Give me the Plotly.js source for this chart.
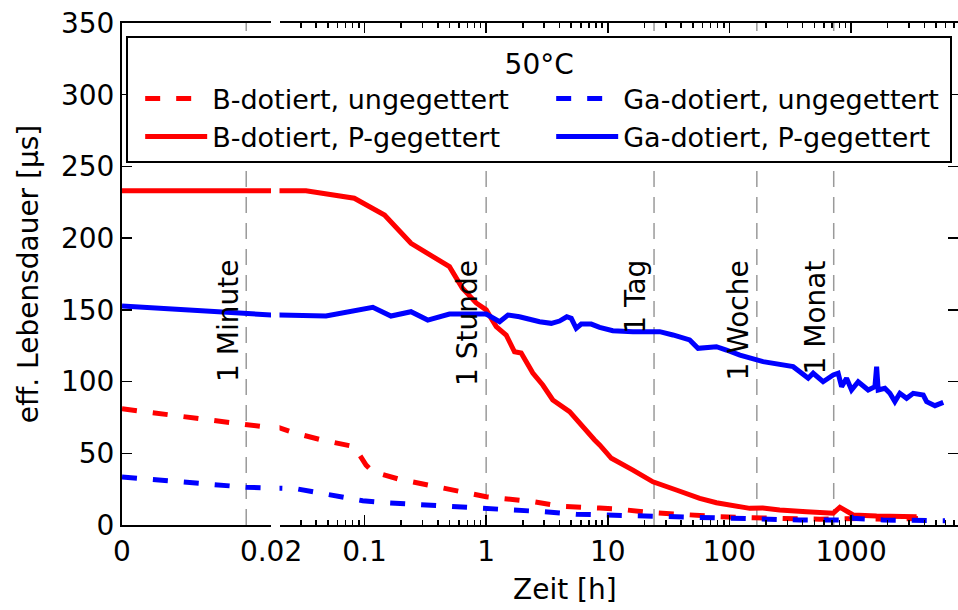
<!DOCTYPE html>
<html><head><meta charset="utf-8">
<script src="https://cdn.plot.ly/plotly-3.0.1.min.js"></script>
<style>html,body{margin:0;padding:0;background:#fff}</style>
</head><body><div id="chart" style="width:958px;height:610px"></div>
<script>
// ---- data (time in hours, effective lifetime in µs) ----
const tB_ung = [0, 0.0167, 0.0206, 0.0273, 0.0425, 0.0824, 0.103, 0.117, 0.193, 0.363, 0.684, 1.0, 2.42, 4.01, 8.57, 11.7, 23.5, 44.3, 83.2, 156, 294, 554, 1181, 2000, 3548];
const yB_ung = [81, 70, 67.4, 63.9, 59.7, 54.6, 41.8, 37.2, 31.9, 27.2, 22.1, 19.7, 16.3, 13.2, 11.8, 11.2, 8.6, 7.0, 5.8, 5.1, 4.7, 4.0, 4.5, 4.0, 4.5];

const tB_P = [0, 0.0167, 0.02, 0.033, 0.0824, 0.146, 0.241, 0.341, 0.499, 0.638, 0.828, 1.0, 1.21, 1.46, 1.71, 1.94, 2.42, 2.92, 3.53, 4.85, 6.65, 7.79, 8.57, 10.7, 16.1, 23.5, 36.6, 57, 78.2, 147, 188, 259, 430, 713, 809, 918, 1040, 1622, 3459];
const yB_P = [233, 233, 233, 233, 227.8, 216.1, 196.4, 188.2, 180.1, 165.1, 154.8, 150, 138.3, 132.5, 120.8, 119.9, 106, 97.6, 87.2, 79, 65, 59.3, 55.8, 46.5, 38.3, 30.1, 24.4, 18.6, 15.5, 11.6, 11.9, 10.5, 9.3, 8.2, 12.4, 9.3, 7.0, 6.3, 5.8];

const tGa_ung = [0, 0.0167, 0.0206, 0.0273, 0.0374, 0.0482, 0.0705, 0.0965, 0.150, 0.265, 0.499, 1.0, 2.92, 5.5, 9.72, 17.7, 33.3, 60.6, 114, 202, 379, 670, 830, 918, 1040, 1837, 3228, 5920];
const yGa_ung = [33.5, 26.3, 25.6, 25.3, 23.2, 20.9, 18.6, 16.9, 15.5, 14.4, 12.8, 11.6, 9.3, 7.5, 7.0, 5.8, 5.3, 4.7, 4.2, 4.2, 3.5, 3.5, 3.5, 8.2, 4.7, 3.5, 3.0, 3.0];

const tGa_P = [0, 0.0167, 0.02, 0.0482, 0.0798, 0.117, 0.165, 0.241, 0.331, 0.499, 1.0, 1.29, 1.51, 1.88, 2.75, 3.43, 4.01, 4.6, 5.01, 5.5, 6.05, 7.31, 8.57, 11.0, 16.1, 26.7, 34.3, 47.1, 55.2, 78.2, 94.5, 122, 189, 334, 379, 444, 488, 589, 713, 783, 836, 918, 1009, 1144, 1383, 1570, 1622, 1671, 1897, 2085, 2291, 2519, 2862, 3245, 3920, 4181, 4895, 5728];
const yGa_P = [152.7, 147.1, 146.4, 145.7, 149.4, 151.8, 145.7, 148.7, 142.9, 147.1, 147.1, 141.7, 146.4, 145.2, 141.7, 140.6, 142.2, 145.2, 144.1, 137.1, 140.1, 140.1, 137.8, 135.5, 134.8, 134.8, 132.5, 129, 123.2, 124.3, 122, 118.5, 113.9, 110.4, 106.9, 102.3, 105.8, 99.9, 104.6, 105.8, 96.4, 102.3, 94.1, 99.9, 94.1, 96.4, 110.4, 94.1, 95.3, 91.8, 86, 91.8, 88.3, 91.8, 90.6, 86, 83.2, 85.5];

const seriesNames = ['B-dotiert, ungegettert', 'B-dotiert, P-gegettert', 'Ga-dotiert, ungegettert', 'Ga-dotiert, P-gegettert'];
const legendTitle = '50°C';

const linTickVals = [0, 0.02];
const linTickText = ['0', '0.02'];
const logTickVals = [0.1, 1, 10, 100, 1000];
const logTickText = ['0.1', '1', '10', '100', '1000'];
const yTickVals = [0, 50, 100, 150, 200, 250, 300, 350];

const eventLabels = ['1 Minute', '1 Stunde', '1 Tag', '1 Woche', '1 Monat'];
const eventTimes = [1/60, 1, 24, 168, 720];

const xTitle = 'Zeit [h]';
const yTitle = 'eff. Lebensdauer [µs]';

// ---- build ----
const minorVals = [];
for (let d = -2; d <= 3; d++) for (let k = 2; k <= 9; k++) minorVals.push(k * Math.pow(10, d));

const FONT = 'DejaVu Sans, Arial, sans-serif';
const series = [
  {t: tB_ung, y: yB_ung, name: seriesNames[0], color: '#ff0000', dash: '15px,16px', rank: 1},
  {t: tB_P, y: yB_P, name: seriesNames[1], color: '#ff0000', dash: 'solid', rank: 3},
  {t: tGa_ung, y: yGa_ung, name: seriesNames[2], color: '#0000ff', dash: '15px,16px', rank: 2},
  {t: tGa_P, y: yGa_P, name: seriesNames[3], color: '#0000ff', dash: 'solid', rank: 4}
];
const traces = [];
series.forEach(s => {
  traces.push({x: s.t, y: s.y, xaxis: 'x', yaxis: 'y', mode: 'lines', name: s.name, showlegend: false,
    line: {color: s.color, width: 5, dash: s.dash}, hoverinfo: 'skip'});
});
series.forEach(s => {
  traces.push({x: s.t, y: s.y, xaxis: 'x2', yaxis: 'y2', mode: 'lines', name: s.name, showlegend: true,
    legendrank: s.rank, line: {color: s.color, width: 5, dash: s.dash}, hoverinfo: 'skip'});
});

const shapes = eventTimes.map((t, i) => ({
  type: 'line', xref: i === 0 ? 'x' : 'x2', yref: 'paper', x0: t, x1: t, y0: 0, y1: 1, layer: 'below',
  line: {color: '#9a9a9a', width: 1.5, dash: '16px,10px'}
}));

const annotations = eventTimes.map((t, i) => ({
  xref: i === 0 ? 'x' : 'x2', yref: 'y', x: i === 0 ? t : Math.log10(t), y: 186,
  xanchor: 'right', yanchor: 'top', textangle: -90, showarrow: false, text: eventLabels[i],
  font: {family: FONT, size: 28, color: '#000'}
}));
annotations.push({xref: 'paper', yref: 'paper', x: 0.53, y: -0.129, xanchor: 'center', yanchor: 'middle',
  showarrow: false, text: xTitle, font: {family: FONT, size: 28, color: '#000'}});

const axisCommon = {showgrid: false, zeroline: false, showline: true, linecolor: '#000', linewidth: 2,
  ticks: 'inside', ticklen: 10, tickwidth: 1.5, tickcolor: '#000', tickfont: {family: FONT, size: 28, color: '#000'}};

const layout = {
  width: 958, height: 610,
  margin: {l: 122, r: 0, t: 23, b: 85},
  paper_bgcolor: '#fff', plot_bgcolor: '#fff',
  font: {family: FONT, size: 28, color: '#000'},
  showlegend: true,
  xaxis: Object.assign({}, axisCommon, {domain: [0, 0.1783], range: [0, 0.02], anchor: 'y',
    tickmode: 'array', tickvals: linTickVals, ticktext: linTickText, mirror: 'allticks'}),
  xaxis2: Object.assign({}, axisCommon, {domain: [0.1884, 1], type: 'log', anchor: 'y2',
    range: [Math.log10(0.02), Math.log10(7570)], tickmode: 'array', tickvals: logTickVals, ticktext: logTickText,
    mirror: 'allticks',
    minor: {tickmode: 'array', tickvals: minorVals, ticks: 'inside', ticklen: 5, tickwidth: 1.5, tickcolor: '#000'}}),
  yaxis: Object.assign({}, axisCommon, {range: [0, 350], anchor: 'x', side: 'left', tickmode: 'array', tickvals: yTickVals,
    title: {text: yTitle, font: {family: FONT, size: 28, color: '#000'}, standoff: 14}}),
  yaxis2: Object.assign({}, axisCommon, {range: [0, 350], matches: 'y', anchor: 'x2', side: 'right',
    tickmode: 'array', tickvals: yTickVals, showticklabels: false}),
  legend: {x: 0.005, y: 0.974, xanchor: 'left', yanchor: 'top', orientation: 'h',
    bgcolor: '#fff', bordercolor: '#000', borderwidth: 2, font: {family: FONT, size: 27, color: '#000'},
    title: {text: legendTitle, side: 'top center', font: {family: FONT, size: 28, color: '#000'}},
    itemwidth: 62, indentation: 12, entrywidth: 322, traceorder: 'normal'},
  shapes: shapes,
  annotations: annotations
};

Plotly.newPlot('chart', traces, layout, {displayModeBar: false, staticPlot: true});
</script>
</body></html>
